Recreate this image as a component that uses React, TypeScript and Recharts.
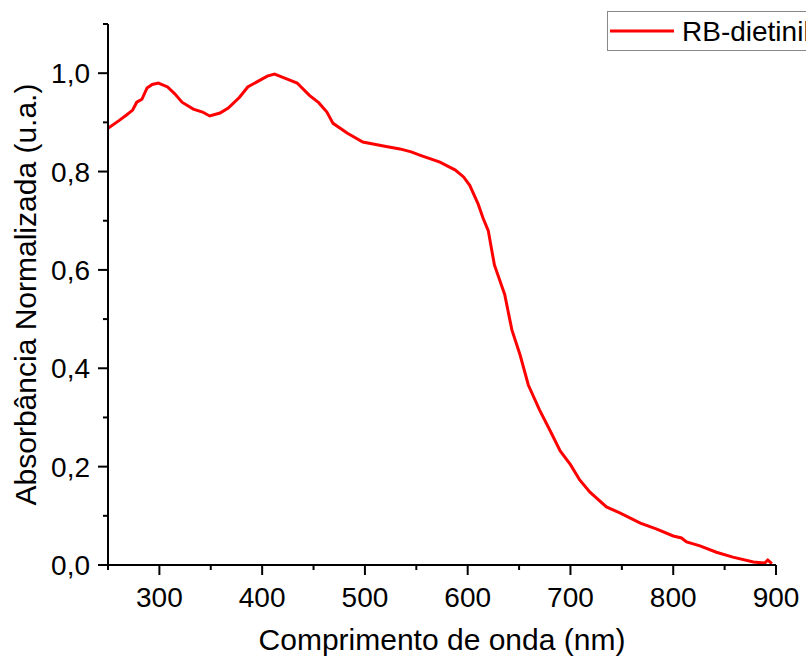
import React from "react";
import { LineChart, Line, XAxis, YAxis, Legend, Label } from "recharts";

// wavelength (nm) and normalized absorbance
const wavelengths = [
  250, 261, 268, 274, 278, 283, 288, 293, 299, 308, 315, 322, 333, 342, 349,
  359, 367, 378, 386, 398, 405, 412, 422, 434, 446, 455, 463, 469, 483, 498,
  518, 534, 545, 554, 573, 588, 596, 602, 610, 615, 620, 626, 636, 643, 651,
  659, 670, 680, 690, 700, 709, 719, 735, 748, 768, 784, 800, 808, 813, 826,
  842, 858, 878, 889, 892, 896,
];
const absorbance = [
  0.888, 0.904, 0.915, 0.925, 0.941, 0.947, 0.97, 0.977, 0.98, 0.972, 0.958,
  0.941, 0.927, 0.921, 0.913, 0.919, 0.929, 0.951, 0.972, 0.986, 0.994, 0.998,
  0.99, 0.98, 0.955, 0.94, 0.921, 0.898, 0.878, 0.86, 0.852, 0.846, 0.84,
  0.833, 0.819, 0.803, 0.789, 0.772, 0.735, 0.705, 0.68, 0.61, 0.55, 0.478,
  0.427, 0.366, 0.315, 0.274, 0.232, 0.204, 0.173, 0.148, 0.118, 0.106, 0.085,
  0.073, 0.059, 0.055, 0.047, 0.039, 0.026, 0.016, 0.006, 0.004, 0.01, 0.003,
];

const xTicks = [250, 300, 350, 400, 450, 500, 550, 600, 650, 700, 750, 800, 850, 900];
const yTicks = [0, 0.1, 0.2, 0.3, 0.4, 0.5, 0.6, 0.7, 0.8, 0.9, 1.0, 1.1];

const seriesName = "RB-dietinil";
const xTitle = "Comprimento de onda (nm)";
const yTitle = "Absorbância Normalizada (u.a.)";

const data = wavelengths.map((w, i) => ({ w, a: absorbance[i] }));

const FONT = "'Liberation Sans', Arial, sans-serif";
const RED = "#ff0000";

function XTick(props: any) {
  const { x, y, payload } = props;
  const major = payload.value % 100 === 0;
  return (
    <g>
      <line x1={x} x2={x} y1={y} y2={y + (major ? 10 : 5)} stroke="#000" strokeWidth={2} />
      {major && (
        <text x={x} y={y + 42} textAnchor="middle" fontSize={28} fontFamily={FONT} fill="#000">
          {payload.value}
        </text>
      )}
    </g>
  );
}

function YTick(props: any) {
  const { x, y, payload } = props;
  const major = Math.round(payload.value * 10) % 2 === 0;
  return (
    <g>
      <line x1={x} x2={x - (major ? 10 : 5)} y1={y} y2={y} stroke="#000" strokeWidth={2} />
      {major && (
        <text x={x - 18} y={y + 10} textAnchor="end" fontSize={28} fontFamily={FONT} fill="#000">
          {payload.value.toFixed(1).replace(".", ",")}
        </text>
      )}
    </g>
  );
}

function XTitle(props: any) {
  const vb = props.viewBox;
  return (
    <text x={vb.x + vb.width / 2} y={vb.y + 85} textAnchor="middle" fontSize={30} fontFamily={FONT} fill="#000">
      {xTitle}
    </text>
  );
}

function YTitle(props: any) {
  const vb = props.viewBox;
  const cx = vb.x + 36;
  const cy = vb.y + vb.height / 2;
  return (
    <text
      x={cx}
      y={cy}
      transform={`rotate(-90 ${cx} ${cy})`}
      textAnchor="middle"
      fontSize={30}
      fontFamily={FONT}
      fill="#000"
    >
      {yTitle}
    </text>
  );
}

function LegendBox() {
  return (
    <svg width={199} height={42} style={{ display: "block" }}>
      <rect x={0.5} y={0.5} width={260} height={39} fill="#fff" stroke="#888" strokeWidth={1} />
      <line x1={3} x2={67} y1={20} y2={20} stroke={RED} strokeWidth={3} />
      <text x={75} y={30} fontSize={28} fontFamily={FONT} fill="#000">
        {seriesName}
      </text>
    </svg>
  );
}

export default function App() {
  return (
    <div style={{ position: "absolute", left: 0, top: 0, width: 806, height: 659, overflow: "hidden", background: "#fff" }}>
      <LineChart width={806} height={659} data={data} margin={{ top: 24, right: 30, bottom: 0, left: 0 }}>
        <XAxis
          dataKey="w"
          type="number"
          domain={[250, 900]}
          ticks={xTicks}
          height={94}
          tickSize={0}
          tickMargin={0}
          tickLine={false}
          axisLine={{ stroke: "#000", strokeWidth: 2 }}
          tick={<XTick />}
          interval={0}
          allowDataOverflow
        >
          <Label content={<XTitle />} />
        </XAxis>
        <YAxis
          type="number"
          domain={[0, 1.1]}
          ticks={yTicks}
          width={108}
          tickSize={0}
          tickMargin={0}
          tickLine={false}
          axisLine={{ stroke: "#000", strokeWidth: 2 }}
          tick={<YTick />}
          interval={0}
          allowDataOverflow
        >
          <Label content={<YTitle />} />
        </YAxis>
        <Legend
          layout="horizontal"
          verticalAlign="middle"
          align="center"
          content={<LegendBox />}
          wrapperStyle={{ position: "absolute", top: 11, left: 607, width: 199, height: 42 }}
        />
        <Line
          type="linear"
          dataKey="a"
          name={seriesName}
          stroke={RED}
          strokeWidth={3}
          dot={false}
          isAnimationActive={false}
        />
      </LineChart>
    </div>
  );
}
